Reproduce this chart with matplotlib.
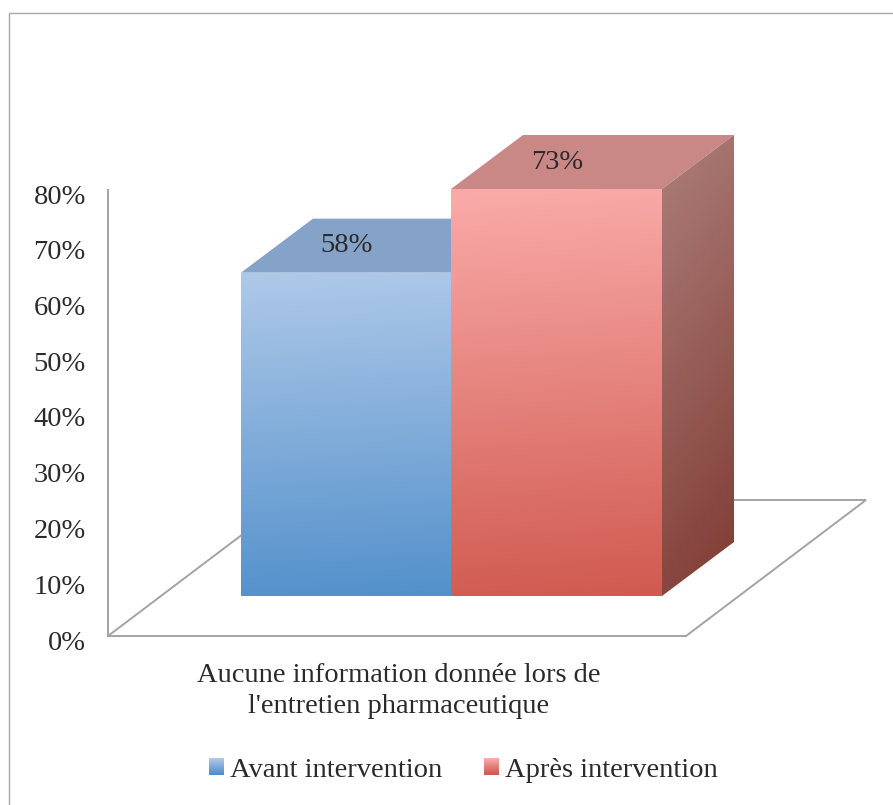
#!/usr/bin/env python3
"""3D-look column chart: Avant / Après intervention."""

import matplotlib
matplotlib.use("Agg")
import matplotlib.pyplot as plt
import numpy as np
from matplotlib.colors import to_rgb
from matplotlib.legend_handler import HandlerBase
from matplotlib.patches import Patch, Polygon, Rectangle
from matplotlib.transforms import ScaledTranslation

series = ["Avant intervention", "Après intervention"]
values = [58, 73]
tick_values = [0, 10, 20, 30, 40, 50, 60, 70, 80]
category = "Aucune information donnée lors de\nl'entretien pharmaceutique"

front_top = ["#AFC9E9", "#FAABA9"]
front_bottom = ["#5390CB", "#D05A50"]
roof_colors = ["#85A2C8", "#C98886"]
side_start = "#AD7F7B"
side_end = "#7F3A32"
grey = "#A3A3A3"
ink = "#2A2A2A"

W, H = 893, 805
PX = 446 / 80  # pixels per percentage point
Y0 = 636       # pixel row of 0%
FS = 20.5

plt.rcParams["font.family"] = ["Liberation Serif", "DejaVu Serif"]

fig = plt.figure(figsize=(W / 100, H / 100), dpi=100)
ax = fig.add_axes([0, 0, 1, 1])


def drop(px):
    return px / PX


def gradient(poly, c0, c1, angle=90.0, z=3):
    # linear gradient over the bbox of poly, clipped to it
    xy = np.array(poly)
    x0, x1 = xy[:, 0].min(), xy[:, 0].max()
    y0, y1 = xy[:, 1].min(), xy[:, 1].max()
    gx, gy = np.meshgrid(np.linspace(0, 1, 64), np.linspace(0, 1, 256))
    a = np.deg2rad(angle)
    t = gx * np.cos(a) + gy * np.sin(a)
    t = (t - t.min()) / (t.max() - t.min())
    rgb = np.array(to_rgb(c0)) + t[..., None] * (np.array(to_rgb(c1)) - np.array(to_rgb(c0)))
    im = ax.imshow(rgb, extent=(x0, x1, y0, y1), origin="upper", aspect="auto",
                   interpolation="bilinear", zorder=z)
    clip = Polygon(poly, closed=True, transform=ax.transData)
    im.set_clip_path(clip)


# floor
depth_x, depth_y = 180, drop(136)
floor_x0, floor_x1 = 108, 686
ax.plot([floor_x0, floor_x0 + depth_x, floor_x1 + depth_x, floor_x1],
        [0, depth_y, depth_y, 0], color=grey, lw=1.4, zorder=1, solid_joinstyle="miter")

# bars
bar_lefts = [241, 451]
bar_w = [210, 211]
base = drop(40)
dx, dy = 72, drop(54)
for i, v in enumerate(values):
    x0, x1 = bar_lefts[i], bar_lefts[i] + bar_w[i]
    top = base + v  # the value sets the height above the bar's own base
    front = [(x0, base), (x1, base), (x1, top), (x0, top)]
    side = [(x1, base), (x1 + dx, base + dy), (x1 + dx, top + dy), (x1, top)]
    roof = [(x0, top), (x1, top), (x1 + dx, top + dy), (x0 + dx, top + dy)]
    ax.add_patch(Polygon(roof, closed=True, fc=roof_colors[i], ec="none", zorder=2 + i))
    if i == len(values) - 1:
        gradient(side, side_start, side_end, angle=78, z=2 + i)
    gradient(front, front_top[i], front_bottom[i], angle=88, z=2.5 + i)
    ax.text((x0 + x1) / 2 + 0.5, top + dy / 2, f"{v}%",
            ha="center", va="center", fontsize=FS, color=ink, zorder=6)

ax.set_xlim(0, W)
ax.set_ylim((Y0 - H) / PX, Y0 / PX)

# axis lines and labels live on the real axes
for s in ("top", "right"):
    ax.spines[s].set_visible(False)
ax.spines["left"].set_position(("data", floor_x0))
ax.spines["left"].set_bounds(0, 80)
ax.spines["bottom"].set_position(("data", 0))
ax.spines["bottom"].set_bounds(floor_x0, floor_x1)
for s in ("left", "bottom"):
    ax.spines[s].set_color(grey)
    ax.spines[s].set_linewidth(1.4)
    ax.spines[s].set_zorder(1.5)
ax.set_yticks(tick_values, [f"{t}%" for t in tick_values])
ax.set_xticks([398.5], [category])
ax.tick_params(axis="y", length=0, pad=16, labelsize=FS, labelcolor=ink)
ax.tick_params(axis="x", length=0, pad=19.5, labelsize=FS, labelcolor=ink)
nudge = ScaledTranslation(0, -4 / 100, fig.dpi_scale_trans)
for lab in ax.get_yticklabels():
    lab.set_transform(lab.get_transform() + nudge)
for lab in ax.get_xticklabels():
    lab.set_linespacing(1.32)
ax.patch.set_alpha(0)

# outer frame, cut by the picture on the right and bottom
ax.plot([9, 9, W], [(Y0 - H) / PX, (Y0 - 13) / PX, (Y0 - 13) / PX],
        color="#A8A8A8", lw=1.0, zorder=0, clip_on=False)


class GradientKey(HandlerBase):
    def __init__(self, c0, c1):
        super().__init__()
        self.c0, self.c1 = np.array(to_rgb(c0)), np.array(to_rgb(c1))

    def create_artists(self, legend, orig, xd, yd, width, height, fontsize, trans):
        n = 16
        out = []
        for k in range(n):
            c = self.c0 + (self.c1 - self.c0) * k / (n - 1)
            y = -yd + height * (1 - (k + 1) / n)
            out.append(Rectangle((-xd, y), width, height / n + 0.2, fc=c, ec="none",
                                 transform=trans))
        return out


handles = [Patch(label=s) for s in series]
ax.legend(handles=handles, loc="center", bbox_to_anchor=(463 / W, 1 - 770 / H), ncol=2,
          frameon=False, fontsize=FS, labelcolor=ink, handlelength=0.53, handleheight=0.53,
          handletextpad=0.21, columnspacing=1.47,
          handler_map={handles[i]: GradientKey(front_top[i], front_bottom[i]) for i in range(2)})

fig.savefig("out.png", dpi=100)
